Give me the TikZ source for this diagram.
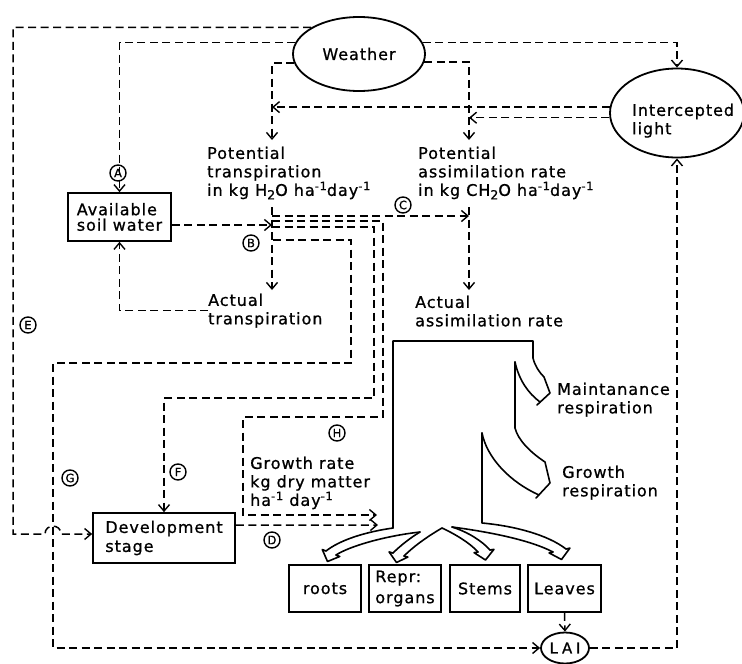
\documentclass[tikz,border=0pt]{standalone}
\usepackage{fontspec}
\setmainfont[LetterSpace=6, FakeBold=0.8]{DejaVu Sans}
\usetikzlibrary{arrows.meta,calc,shapes.geometric}
\newcommand\supm[1]{\raisebox{0.65ex}{\fontsize{11.5}{11.5}\selectfont #1}}
\newcommand\subn[1]{\raisebox{-0.4ex}{\fontsize{12.5}{12.5}\selectfont #1}}
\newcommand\vhead[3]{\draw[flow] (#1) -- ($(#1)!-4pt!(#2)$) -- (#3) -- ($(#2)!-4pt!(#1)$) -- (#2);}
\begin{document}
\begin{tikzpicture}[x=1pt,y=-1pt,
  txt/.style={inner sep=0pt, anchor=north west, align=left, font=\fontsize{16}{18.5}\selectfont},
  box/.style={draw, line width=1.7pt, inner sep=0pt, align=left, font=\fontsize{16}{17}\selectfont},
  oval/.style={draw, ellipse, line width=1.8pt, inner sep=0pt},
  dsh/.style={line width=1.5pt, dash pattern=on 8pt off 4.5pt, -{Straight Barb[length=6.5pt,width=11pt,line width=1.4pt]}},
  flow/.style={line width=1.6pt, line join=round, line cap=round},
  lett/.style={draw, circle, line width=1.4pt, minimum size=16pt, inner sep=0pt, font=\fontsize{11.5}{11.5}\selectfont}]
\useasboundingbox (0,0) rectangle (742,664);
\fill[white] (0,0) rectangle (742,664);

% ---------- nodes ----------
\node[oval, minimum width=132pt, minimum height=74pt, font=\fontsize{16}{18}\selectfont] (weather) at (359,54) {Weather};
\node[oval, minimum width=134pt, minimum height=89pt] (il) at (677,113) {};
\node[txt] (iltxt) at (632,103.5) {Intercepted\\light};
\node[box, minimum width=103pt, minimum height=48pt, font=\fontsize{16}{15.5}\selectfont] (asw) at (119.5,217) {Available\\soil water};
\node[box, minimum width=142pt, minimum height=50pt, font=\fontsize{16}{19}\selectfont] (dev) at (164,538) {Development\\stage};
\node[box, minimum width=72pt, minimum height=47pt] (roots) at (325,588.5) {roots};
\node[box, minimum width=72pt, minimum height=47pt, font=\fontsize{16}{21}\selectfont] (repr) at (405,588.5) {Repr:\\organs};
\node[box, minimum width=70pt, minimum height=47pt] (stems) at (485,588.5) {Stems};
\node[box, minimum width=73pt, minimum height=47pt] (leaves) at (564.5,588.5) {Leaves};
\node[oval, minimum width=48pt, minimum height=31pt, font=\fontsize{15}{15}\selectfont\addfontfeature{LetterSpace=25}] (lai) at (565,648) {LAI};

\node[txt] (pt) at (207,146.5) {Potential\\transpiration\\in kg H\subn{2}O ha\supm{-1}day\supm{-1}};
\node[txt] (pa) at (418,146.5) {Potential\\assimilation rate\\in kg CH\subn{2}O ha\supm{-1}day\supm{-1}};
\node[txt] (at) at (208,293.5) {Actual\\transpiration};
\node[txt] (aa) at (415,295.5) {Actual\\assimilation rate};
\node[txt] (mr) at (557,382.5) {Maintanance\\respiration};
\node[txt] (gr) at (562,465.5) {Growth\\respiration};
\node[txt] (grate) at (250,456.5) {Growth rate\\kg dry matter\\ha\supm{-1} day\supm{-1}};

\node[lett] (lA) at (118,173) {A};
\node[lett] (lB) at (251,243) {B};
\node[lett] (lC) at (403,205) {C};
\node[lett] (lD) at (272,540) {D};
\node[lett] (lE) at (28,325) {E};
\node[lett] (lF) at (178,472) {F};
\node[lett] (lG) at (70,478) {G};
\node[lett] (lH) at (337,433) {H};

% ---------- named junctions ----------
\coordinate (ptin) at (272,140);
\coordinate (pain) at (469,140);
\coordinate (ptout) at (272,207);
\coordinate (atin) at (272,290);
\coordinate (paout) at (469,207);
\coordinate (aain) at (469,290);
\coordinate (jB) at (272,225);
\coordinate (hopa) at (45,534);
\coordinate (hopb) at (61,534);
\coordinate (cS) at (272,216);
\coordinate (cE) at (469,216);
\coordinate (hS) at (272,221);
\coordinate (hE) at (377,515);
\coordinate (fS) at (272,227);
\coordinate (gS) at (273,240);
\coordinate (dE) at (378,525);

% ---------- dashed connectors ----------
\draw[dsh] (weather.151) -| ([xshift=-32pt]hopa) -- (hopa) .. controls (45,523.5) and (61,523.5) .. (hopb) -- (dev.west |- hopb);
\draw[dsh] (weather.170) -| (asw.north);
\draw[dsh] (weather.188) -| (ptin);
\draw[dsh] (weather.10) -| (il.north);
\draw[dsh] (weather.-7) -| (pain);
\draw[dsh] (il.175) -- (il.175 -| ptin);
\draw[dsh] (il.184) -- (il.184 -| pain);
\draw[dsh] (asw.east |- jB) -- (jB);
\draw[dsh] (ptout) -- (atin);
\draw[dsh] (paout) -- (aain);
\draw[dsh] (cS) -- (cE);
\draw[dsh] (hS) -- (383,221) -- (383,417) -- (243,417) -- (243,515) -- (hE);
\draw[dsh] (fS) -- (374,227) -- (374,398) -- (164,398) -- (dev.north);
\draw[dsh] (gS) -- (351,240) -- (351,363) -- (53,363) -- (53,648) -- (lai.west);
\draw[dsh] (at.west) -| (asw.south);
\draw[dsh] ([yshift=-13pt]dev.north east) -- (dE);
\draw[dsh] (leaves.south) -- (lai.north);
\draw[dsh] (lai.east) -| (il.south);

% ---------- dry matter flow ----------
\draw[flow] (393,528) -- (393,341) -- (533,341) -- (533,358) .. controls (535,366) and (539,372) .. (544,377) -- (550,393) -- (537,405);
\draw[flow] (515,362) .. controls (519,380) and (528,393) .. (540,402);
\draw[flow] (515,362) -- (515,428) .. controls (518,440) and (530,452) .. (545,462) -- (550,483) -- (536,498);
\draw[flow] (482,433) .. controls (487,458) and (510,482) .. (539,495);
\draw[flow] (482,433) -- (482,523) .. controls (515,526) and (548,535) .. (566,549);
% roots
\draw[flow] (393,528) .. controls (365,532) and (340,540) .. (326,551);
\draw[flow] (420,532) .. controls (385,536) and (350,546) .. (336,555);
\vhead{326,551}{336,555}{327.5,561.5}
% reproductive organs
\draw[flow] (420,532) .. controls (410,538) and (400,546) .. (393,553);
\draw[flow] (442,528) .. controls (430,535) and (415,545) .. (404,556);
\vhead{393,553}{404,556}{396.5,562.5}
% stems
\draw[flow] (442,528) .. controls (455,534) and (470,543) .. (478,552);
\draw[flow] (452,527) .. controls (468,532) and (482,541) .. (490,550);
\vhead{478,552}{490,550}{485.5,560}
% leaves
\draw[flow] (452,527) .. controls (490,532) and (530,540) .. (553,552);
\vhead{553,552}{566,549}{561.5,559.5}
\end{tikzpicture}
\end{document}
